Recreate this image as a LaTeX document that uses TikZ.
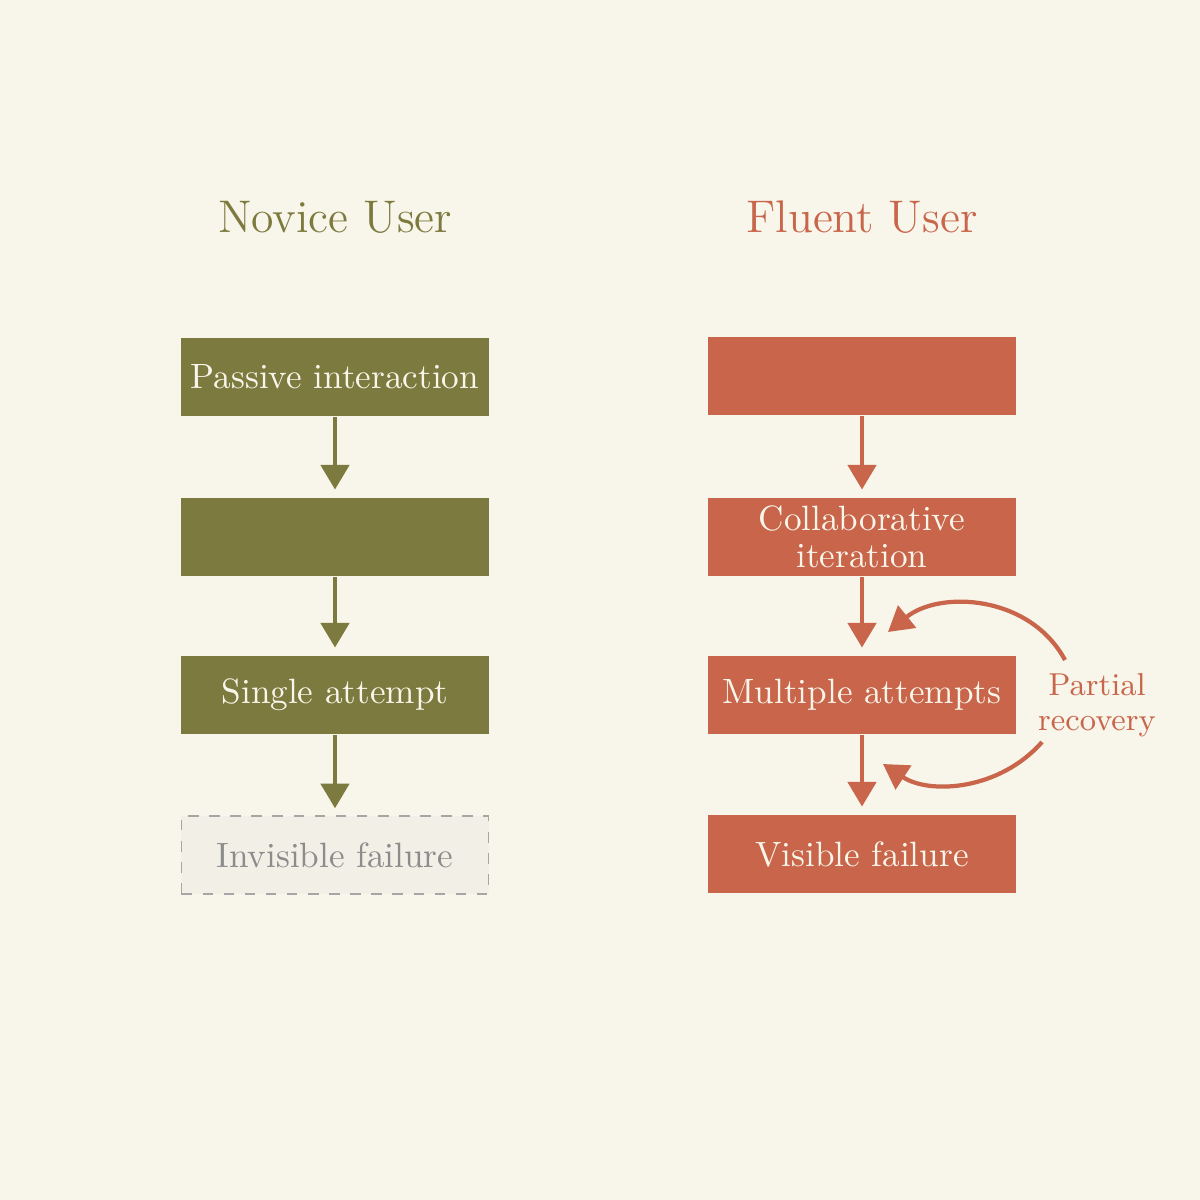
\documentclass[tikz,border=0pt]{standalone}
\usetikzlibrary{arrows.meta}
\definecolor{bgcol}{HTML}{F8F5EA}
\definecolor{olive}{HTML}{7D7A3F}
\definecolor{rust}{HTML}{C8654A}
\definecolor{ghost}{HTML}{F2EFE6}
\begin{document}
\begin{tikzpicture}[x=0.01cm,y=-0.01cm,
  thick,
  olive box/.style={rectangle,fill=olive,inner sep=1pt,minimum width=3.07cm,minimum height=0.78cm,text=bgcol,font=\fontsize{10}{11}\selectfont,align=center},
  rust box/.style={olive box,fill=rust},
  ghost box/.style={olive box,fill=ghost,draw=gray!70,dashed,thin,text=gray!90},
  title/.style={font=\fontsize{13}{15}\selectfont},
  flow/.style={-{Triangle[length=7pt,width=8pt]},line width=1.2pt,shorten >=2pt}]

  \fill[bgcol] (0,0) rectangle (1200,1200);

  \node[title,text=olive] (nt) at (335,217) {Novice User};
  \node[title,text=rust] (ft) at (862,217) {Fluent User};

  \node[olive box] (n1) at (335,377) {Passive interaction};
  \node[olive box] (n2) at (335,537) {};
  \node[olive box] (n3) at (335,695) {Single attempt};
  \node[ghost box] (n4) at (335,855) {Invisible failure};

  \node[rust box] (f1) at (862,376) {};
  \node[rust box,font=\fontsize{10}{10.5}\selectfont] (f2) at (862,537) {Collaborative\\iteration};
  \node[rust box] (f3) at (862,695) {Multiple attempts};
  \node[rust box] (f4) at (862,854) {Visible failure};

  \node[text=rust,font=\fontsize{9}{10}\selectfont,align=center] (pr) at (1097,705) {Partial\\recovery};

  \draw[flow,olive] (n1) -- (n2);
  \draw[flow,olive] (n2) -- (n3);
  \draw[flow,olive] (n3) -- (n4);
  \draw[flow,rust] (f1) -- (f2);
  \draw[flow,rust] (f2) -- (f3);
  \draw[flow,rust] (f3) -- (f4);

  \coordinate (up) at (888,632);
  \coordinate (dn) at (883,764);
  \draw[rust,line width=1.2pt,-{Triangle[length=7pt,width=8pt]}] (1065,660) .. controls (1030,595) and (940,590) .. (up);
  \draw[rust,line width=1.2pt,-{Triangle[length=7pt,width=8pt]}] (1042,742) .. controls (1000,790) and (930,795) .. (dn);
\end{tikzpicture}
\end{document}
